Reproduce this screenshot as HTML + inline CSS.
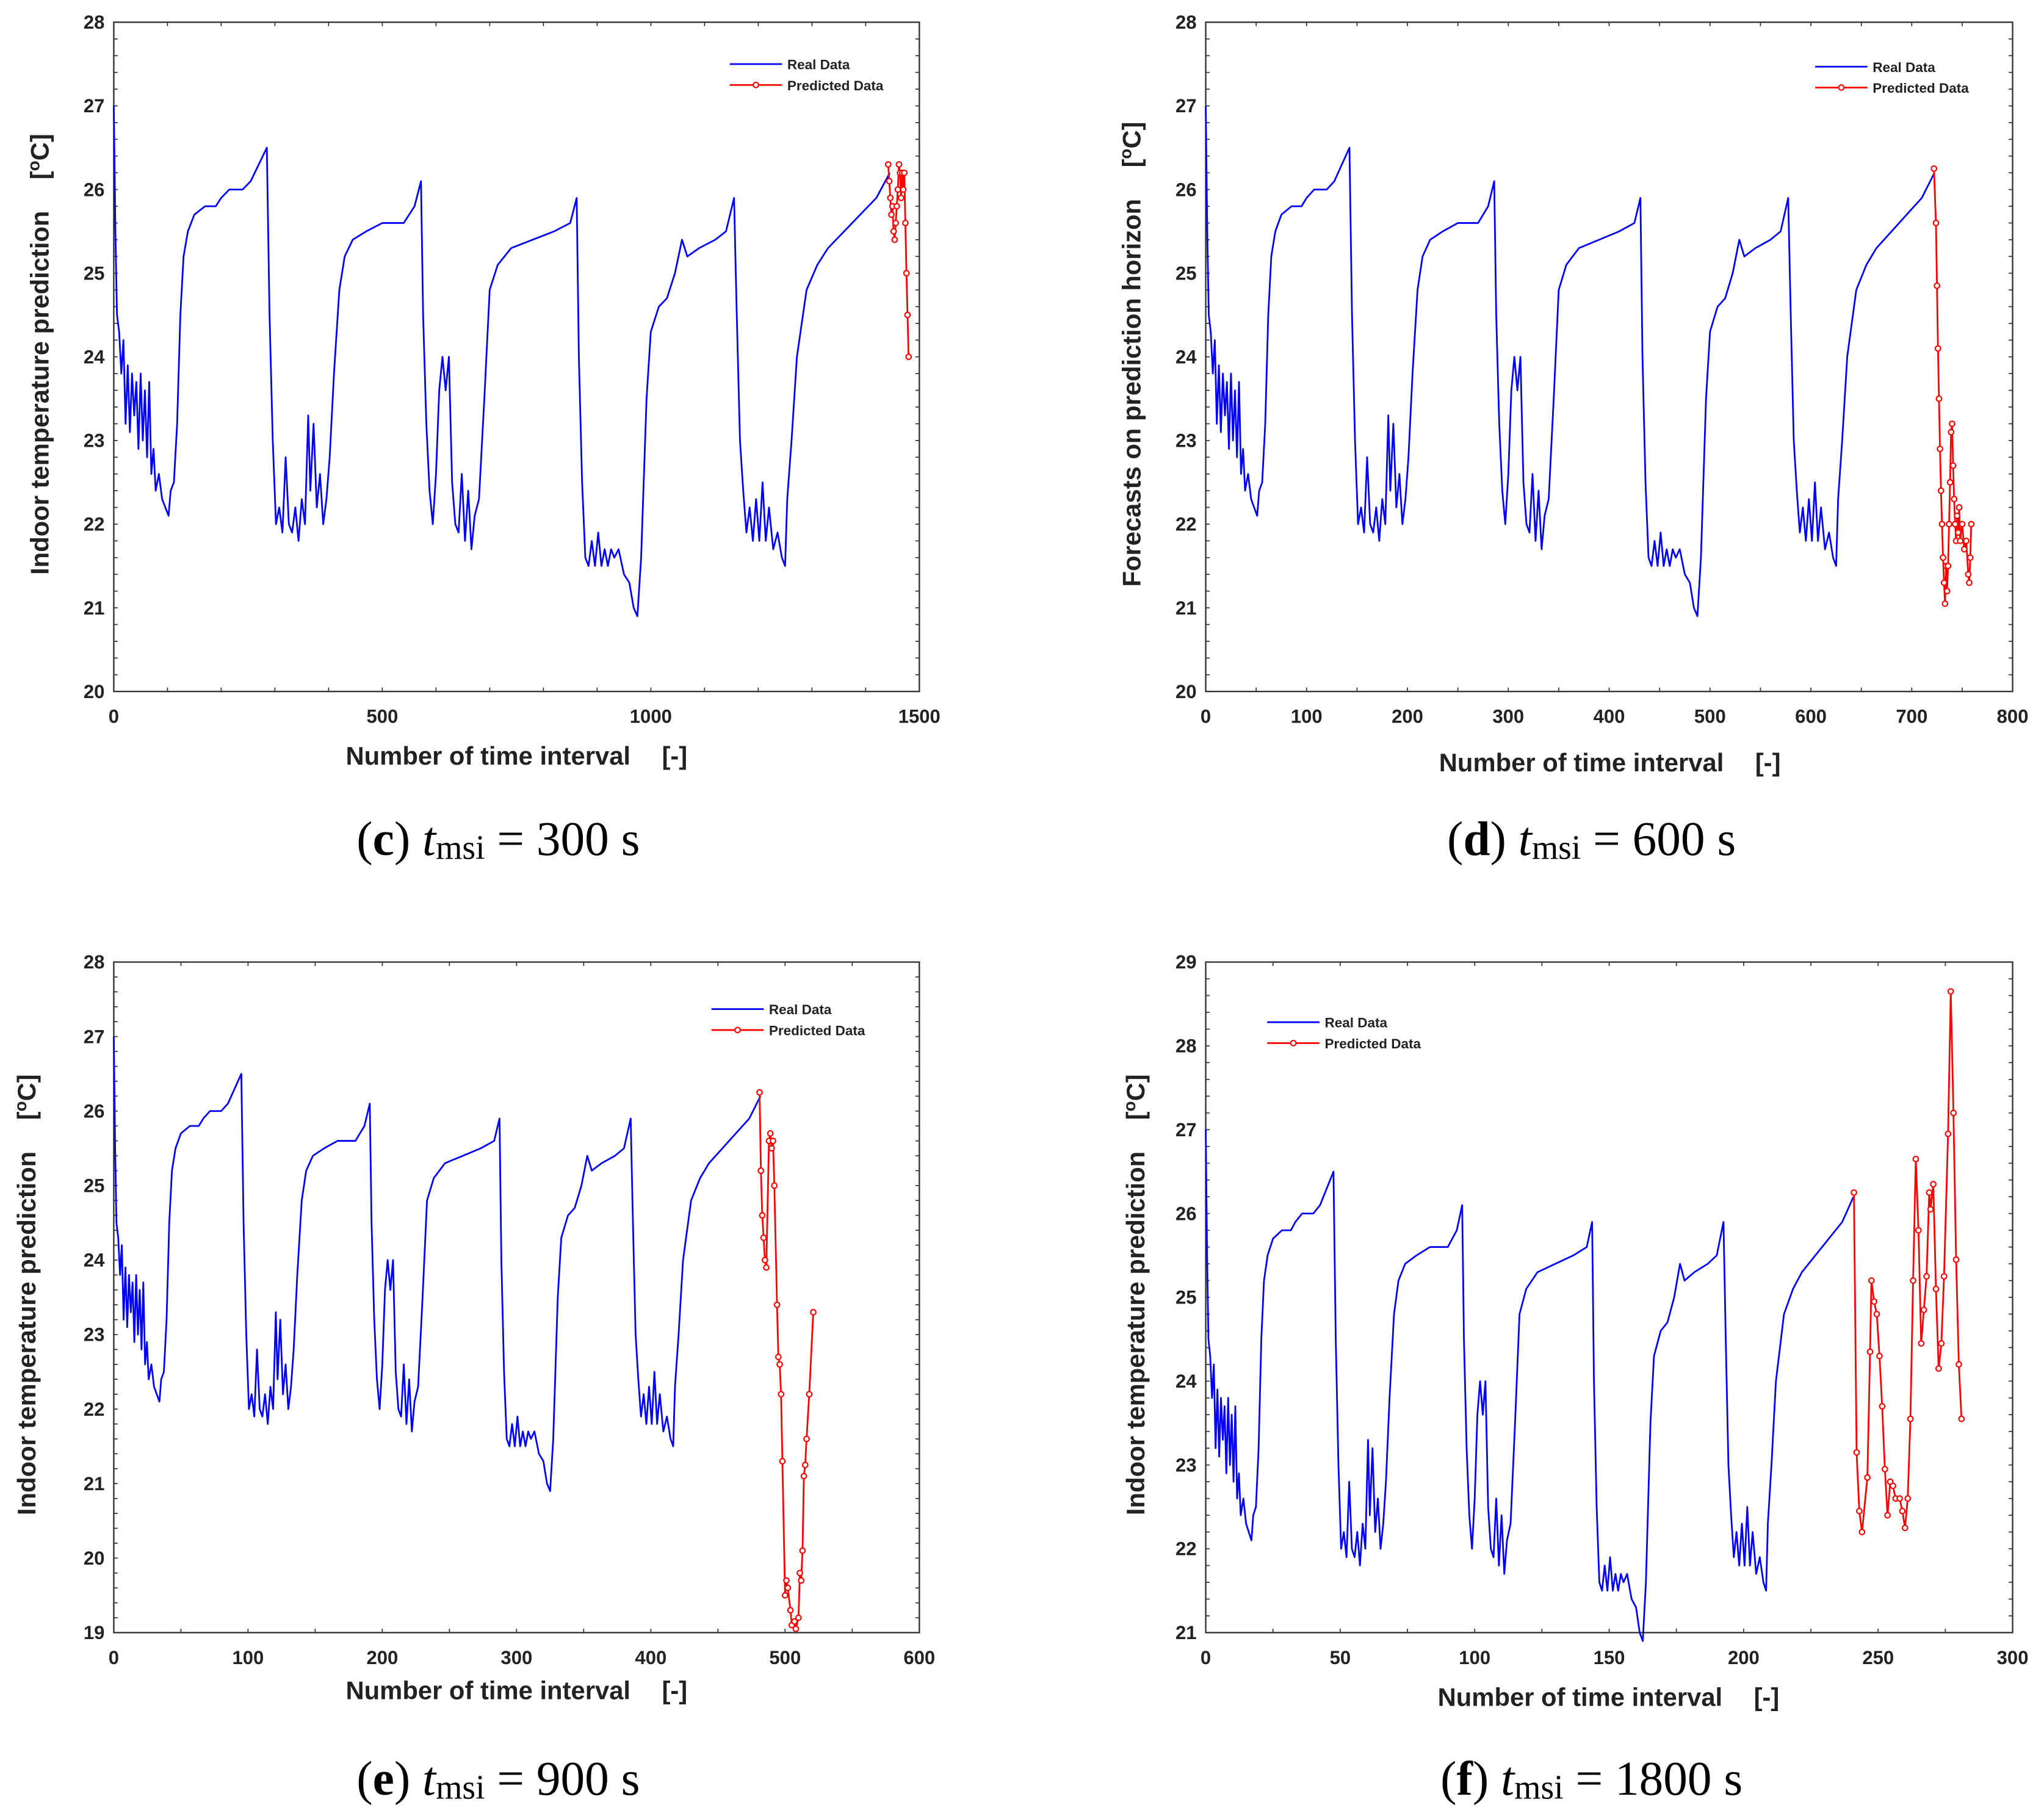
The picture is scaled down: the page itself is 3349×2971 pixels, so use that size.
<!DOCTYPE html>
<html><head><meta charset="utf-8"><style>
html,body{margin:0;padding:0;background:#fff}
svg{display:block}
text{font-family:"Liberation Sans",Arial,sans-serif;fill:#222}
.tk{font-size:14.5px;font-weight:bold}
.al{font-size:19.5px;font-weight:bold}
.lg{font-size:10.5px;font-weight:bold}
.cap{font-family:"Liberation Serif",serif;font-size:37px;fill:#000}
</style></head><body>
<svg id="fig" width="3349" height="2971" viewBox="0 0 1563 1387" preserveAspectRatio="none" xmlns="http://www.w3.org/2000/svg"></svg>
<script>
// Real measured indoor temperature: time in hours, temperature in °C
const realHours = [0,0.25,0.5,0.83,1.17,1.5,1.83,2.17,2.5,2.83,3.17,3.5,3.83,4.17,4.5,4.83,5.17,5.5,5.83,6.17,6.5,7,7.5,8,8.5,8.83,9.33,9.83,10.33,10.83,11.5,12.5,14.17,15.83,16.67,17.92,20,21.25,22.5,23.75,24.17,24.67,25.17,25.67,26.17,26.67,27.17,27.67,28.17,28.67,29.17,29.67,30.17,30.5,31,31.5,32,32.5,33,33.5,34.17,35,35.83,37.08,39.17,41.67,45,46.67,47.67,48,48.5,49,49.5,50,50.5,51,51.5,52,52.5,53,53.5,54,54.5,55,55.5,56,56.67,57.5,58.33,59.58,61.67,65,68.33,70.83,71.83,72.17,72.67,73.17,73.67,74.17,74.67,75.17,75.67,76.17,76.67,77.17,77.67,78.33,79.17,80,80.67,81.25,81.83,82.67,83.33,84.58,85.83,87.08,88.17,89,90.83,93.33,95,96.25,96.67,97.17,97.67,98.17,98.67,99.17,99.67,100.17,100.67,101.17,101.67,102.33,103,103.67,104.17,104.5,105.17,106,107.5,109.17,110.83,113.33,115.83,118.33,120.42];
const realTemp = [27,25.5,24.5,24.3,23.8,24.2,23.2,23.9,23.1,23.8,23.3,23.7,22.9,23.8,23.0,23.6,22.8,23.7,22.6,22.9,22.4,22.6,22.3,22.2,22.1,22.4,22.5,23.2,24.5,25.2,25.5,25.7,25.8,25.8,25.9,26.0,26.0,26.1,26.3,26.5,24.5,23.0,22.0,22.2,21.9,22.8,22.0,21.9,22.2,21.8,22.3,22.0,23.3,22.4,23.2,22.2,22.6,22.0,22.3,22.8,23.8,24.8,25.2,25.4,25.5,25.6,25.6,25.8,26.1,24.5,23.2,22.4,22.0,22.6,23.6,24.0,23.6,24.0,22.5,22.0,21.9,22.6,21.8,22.4,21.7,22.1,22.3,23.5,24.8,25.1,25.3,25.4,25.5,25.6,25.9,24.0,22.5,21.6,21.5,21.8,21.5,21.9,21.5,21.7,21.5,21.7,21.6,21.7,21.4,21.3,21.0,20.9,21.6,23.5,24.3,24.6,24.7,25.0,25.4,25.2,25.3,25.4,25.5,25.9,24.5,23.0,22.4,21.9,22.2,21.8,22.3,21.8,22.5,21.8,22.2,21.7,21.9,21.6,21.5,22.3,23.0,24.0,24.8,25.1,25.3,25.5,25.7,25.9,26.2];

// Predicted series per panel (x = interval index)
const predCX = [1442,1444,1446,1448,1450,1452,1454,1456,1458,1460,1462,1464,1466,1468,1470,1472,1474,1476,1478,1480];
const predCY = [26.3,26.1,25.9,25.7,25.8,25.5,25.4,25.6,25.8,26.0,26.3,26.2,25.9,26.2,26.0,26.2,25.6,25.0,24.5,24.0];
const predDX = [722,724,725,726,727,728,729,730,731,732,733,734,735,736,737,738,739,740,741,742,743,744,745,746,747,748,750,752,754,756,757,758,759];
const predDY = [26.25,25.6,24.85,24.1,23.5,22.9,22.4,22.0,21.6,21.3,21.05,21.5,21.2,21.5,22.0,22.5,23.1,23.2,22.7,22.3,22.0,21.8,22.1,21.9,22.2,21.8,22.0,21.7,21.8,21.4,21.3,21.6,22.0];
const predEX = [481,482,483,484,485,486,488,489,490,491,492,494,495,496,497,498,500,501,502,504,505,507,508,510,511,512,513,514,515,516,518,521];
const predEY = [26.25,25.2,24.6,24.3,24.0,23.9,25.6,25.7,25.5,25.6,25.0,23.4,22.7,22.6,22.2,21.3,19.5,19.7,19.6,19.3,19.1,19.15,19.05,19.2,19.8,19.7,20.1,21.1,21.25,21.6,22.2,23.3];
const predFX = [241,242,243,244,246,247,247.5,248.5,249.5,250.5,251.5,252.5,253.5,254.5,255.5,256.5,258,259,260,261,262,263,264,265,266,267,268,269,269.5,270.5,271.5,272.5,273.5,274.5,276,277,278,279,280,281];
const predFY = [26.25,23.15,22.45,22.2,22.85,24.35,25.2,24.95,24.8,24.3,23.7,22.95,22.4,22.8,22.75,22.6,22.6,22.45,22.25,22.6,23.55,25.2,26.65,25.8,24.45,24.85,25.25,26.25,26.05,26.35,25.1,24.15,24.45,25.25,26.95,28.65,27.2,25.45,24.2,23.55];

// Tick labels
const xTicksC = [0,500,1000,1500];
const xTicksD = [0,100,200,300,400,500,600,700,800];
const xTicksE = [0,100,200,300,400,500,600];
const xTicksF = [0,50,100,150,200,250,300];
const yTicksC = [20,21,22,23,24,25,26,27,28];
const yTicksE = [19,20,21,22,23,24,25,26,27,28];
const yTicksF = [21,22,23,24,25,26,27,28,29];

const NS='http://www.w3.org/2000/svg';
const svg=document.getElementById('fig');
function mk(tag,attrs,parent){const e=document.createElementNS(NS,tag);for(const k in attrs)e.setAttribute(k,attrs[k]);(parent||svg).appendChild(e);return e;}

const panels=[
 {id:'c',L:87,R:703,T:17,B:529,xmin:0,xmax:1500,ymin:20,ymax:28,xt:xTicksC,yt:yTicksC,xminor:100,tmsi:300,px:predCX,py:predCY,ylab:'Indoor temperature prediction',ylx:31,xly:578,xlx:395,leg:[558,49],cap:'300',capy:643,capx:381},
 {id:'d',L:922,R:1539,T:17,B:529,xmin:0,xmax:800,ymin:20,ymax:28,xt:xTicksD,yt:yTicksC,xminor:50,tmsi:600,px:predDX,py:predDY,ylab:'Forecasts on prediction horizon',ylx:866,xly:583,xlx:1231,leg:[1388,51],cap:'600',capy:643,capx:1217},
 {id:'e',L:87,R:703,T:736,B:1249,xmin:0,xmax:600,ymin:19,ymax:28,xt:xTicksE,yt:yTicksE,xminor:50,tmsi:900,px:predEX,py:predEY,ylab:'Indoor temperature prediction',ylx:21,xly:1293,xlx:395,leg:[544,772],cap:'900',capy:1362,capx:381},
 {id:'f',L:922,R:1539,T:736,B:1249,xmin:0,xmax:300,ymin:21,ymax:29,xt:xTicksF,yt:yTicksF,xminor:25,tmsi:1800,px:predFX,py:predFY,ylab:'Indoor temperature prediction',ylx:869,xly:1298,xlx:1230,leg:[969,782],cap:'1800',capy:1362,capx:1217}
];

panels.forEach(p=>{
 const g=mk('g',{});
 
 
 const sx=v=>p.L+(v-p.xmin)/(p.xmax-p.xmin)*(p.R-p.L);
 const sy=v=>p.B-(v-p.ymin)/(p.ymax-p.ymin)*(p.B-p.T);
 for(let v=p.xmin;v<=p.xmax+1e-9;v+=p.xminor){const x=sx(v);mk('line',{x1:x,x2:x,y1:p.B,y2:p.B-3,stroke:'#333','stroke-width':0.8},g);mk('line',{x1:x,x2:x,y1:p.T,y2:p.T+3,stroke:'#333','stroke-width':0.8},g);}
 for(let v=p.ymin;v<=p.ymax+1e-9;v+=0.2){const y=sy(v);mk('line',{x1:p.L,x2:p.L+3,y1:y,y2:y,stroke:'#333','stroke-width':0.8},g);mk('line',{x1:p.R,x2:p.R-3,y1:y,y2:y,stroke:'#333','stroke-width':0.8},g);}
 const box=mk('rect',{x:p.L,y:p.T,width:p.R-p.L,height:p.B-p.T,fill:'none',stroke:'#333','stroke-width':1.1},g);
 
 
 p.xt.forEach(v=>{const t=mk('text',{x:sx(v),y:p.B+24,'text-anchor':'middle',class:'tk'},g);t.textContent=v;
  
  });
 p.yt.forEach(v=>{const t=mk('text',{x:p.L-7,y:sy(v)+5,'text-anchor':'end',class:'tk'},g);t.textContent=v;
  
  });
 const xl=mk('text',{x:p.xlx,y:p.xly+7,'text-anchor':'middle',class:'al'},g);
 xl.innerHTML='Number of time interval<tspan dx="24">[-]</tspan>';
 
 
 const cy=(p.T+p.B)/2-2;
 const yl=mk('text',{x:0,y:0,'text-anchor':'middle',class:'al',transform:`translate(${p.ylx+6},${cy}) rotate(-90)`},g);
 yl.innerHTML=p.ylab+'<tspan dx="24">[</tspan><tspan dy="-7" font-size="13">o</tspan><tspan dy="7">C]</tspan>';
 
 
 const rx=realHours.map(h=>h*3600/p.tmsi);
 let d='';rx.forEach((x,i)=>{d+=(i?'L':'M')+sx(x).toFixed(2)+' '+sy(realTemp[i]).toFixed(2);});
 const rl=mk('path',{d:d,fill:'none',stroke:'#0000ff','stroke-width':1.3,'stroke-linejoin':'round'},g);
 
 
 let d2='';p.px.forEach((x,i)=>{d2+=(i?'L':'M')+sx(x).toFixed(2)+' '+sy(p.py[i]).toFixed(2);});
 const pl=mk('path',{d:d2,fill:'none',stroke:'#ff0000','stroke-width':1.3},g);
 
 
 p.px.forEach((x,i)=>{const c=mk('circle',{cx:sx(x),cy:sy(p.py[i]),r:2,fill:'#fff',stroke:'#ff0000','stroke-width':1},g);
  
  });
 const [lx,ly]=p.leg;
 const lg=mk('g',{},g);
 
 
 mk('line',{x1:lx,x2:lx+40,y1:ly,y2:ly,stroke:'#0000ff','stroke-width':1.3},lg);
 mk('line',{x1:lx,x2:lx+40,y1:ly+16,y2:ly+16,stroke:'#ff0000','stroke-width':1.3},lg);
 mk('circle',{cx:lx+20,cy:ly+16,r:2,fill:'#fff',stroke:'#ff0000','stroke-width':1},lg);
 const t1=mk('text',{x:lx+44,y:ly+4,class:'lg'},lg);t1.textContent='Real Data';
 
 
 const t2=mk('text',{x:lx+44,y:ly+20,class:'lg'},lg);t2.textContent='Predicted Data';
 
 
 const cp=mk('text',{x:p.capx,y:p.capy+11,'text-anchor':'middle',class:'cap'});
 cp.innerHTML='(<tspan font-weight="bold">'+p.id+'</tspan>) <tspan font-style="italic">t</tspan><tspan font-size="26" dy="3">msi</tspan><tspan dy="-3"> = '+p.cap+' s</tspan>';
 
 
});
</script>
</body></html>
